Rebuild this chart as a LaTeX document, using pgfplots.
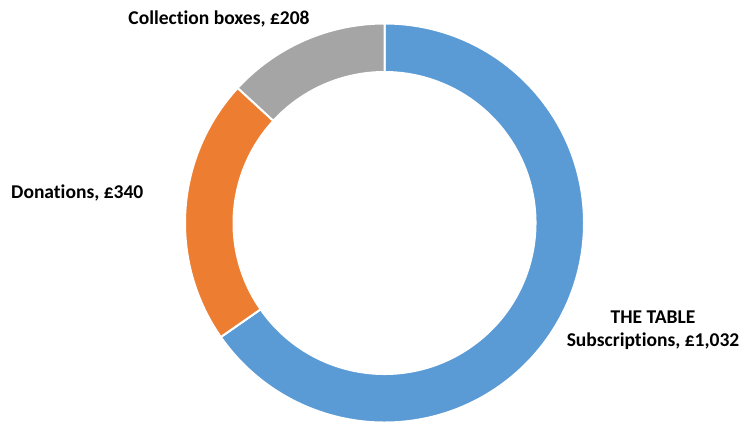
\documentclass[border=0pt]{standalone}
\usepackage{pgfplots}
\usepackage{pgfplotstable}
\pgfplotsset{compat=1.18}
\usepackage{fontspec}
\setmainfont{Carlito}[Ligatures={NoCommon}]
\definecolor{cblue}{HTML}{5B9BD5}
\definecolor{corange}{HTML}{ED7D31}
\definecolor{cgray}{HTML}{A5A5A5}
\pgfplotstableread{
label value
Subscriptions 1032
Donations 340
Collection 208
}\donutdata
\begin{document}
\begin{tikzpicture}
\pgfplotstablegetelem{0}{value}\of\donutdata \let\vA\pgfplotsretval
\pgfplotstablegetelem{1}{value}\of\donutdata \let\vB\pgfplotsretval
\pgfplotstablegetelem{2}{value}\of\donutdata \let\vC\pgfplotsretval
\pgfmathsetmacro{\tot}{\vA+\vB+\vC}
\pgfmathsetmacro{\fA}{\vA/\tot}
\pgfmathsetmacro{\fB}{\vB/\tot}
\pgfmathsetmacro{\aA}{90}
\pgfmathsetmacro{\aB}{90-360*\fA}
\pgfmathsetmacro{\aC}{\aB-360*\fB}
\pgfmathsetmacro{\aD}{-270}
\def\cx{384.5}\def\cy{201}\def\ro{199.5}\def\ri{151}
\begin{axis}[
  hide axis, x=1bp, y=1bp, scale only axis,
  xmin=0, xmax=743, ymin=0, ymax=424, clip=false,
]
\path (axis cs:0,0) rectangle (axis cs:743,424);
\newcommand\slice[3]{%
  \fill[#3, draw=white, line width=2bp, line join=miter]
   (axis cs:{\cx+\ro*cos(#1)},{\cy+\ro*sin(#1)})
   arc[start angle=#1, end angle=#2, radius=\ro bp]
   -- (axis cs:{\cx+\ri*cos(#2)},{\cy+\ri*sin(#2)})
   arc[start angle=#2, end angle=#1, radius=\ri bp] -- cycle;}
\slice{\aA}{\aB}{cblue}
\slice{\aB}{\aC}{corange}
\slice{\aC}{\aD}{cgray}
\node[font=\fontsize{19.6}{23}\selectfont\bfseries, anchor=center] at (axis cs:219,405) {Collection boxes, £208};
\node[font=\fontsize{19.6}{23}\selectfont\bfseries, anchor=west, inner sep=0pt] at (axis cs:11,231) {Donations, £340};
\node[font=\fontsize{19.6}{23}\selectfont\bfseries, align=center, anchor=center] at (axis cs:653,94) {THE TABLE\\Subscriptions, £1,032};
\end{axis}
\end{tikzpicture}
\end{document}
